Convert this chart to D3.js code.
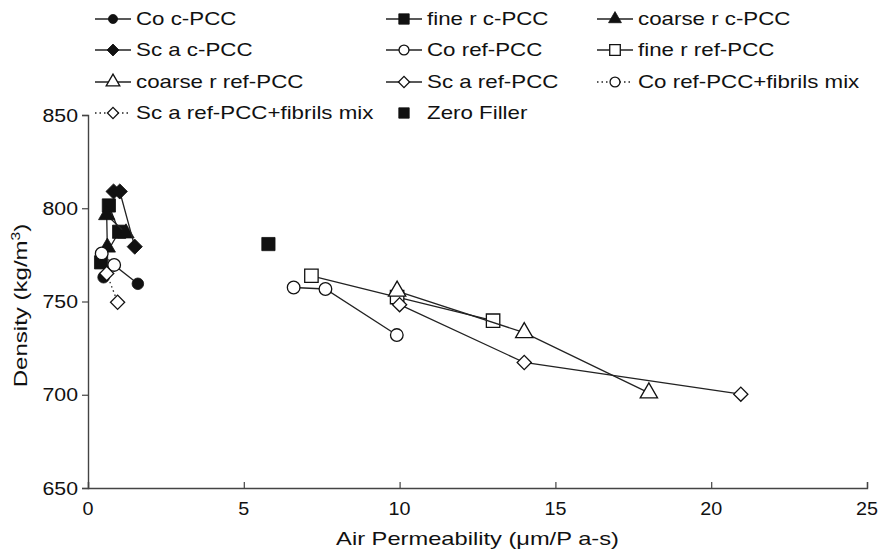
<!DOCTYPE html>
<html><head><meta charset="utf-8">
<script src="https://cdn.jsdelivr.net/npm/d3@7"></script>
<style>
html,body{margin:0;padding:0;background:#fff;}
svg{display:block;font-family:"Liberation Sans",Arial,sans-serif;}
</style></head>
<body><svg id="chart" width="878" height="552"></svg>
<script>
// ---- data ----
const seriesNames = ["Co c-PCC","fine r c-PCC","coarse r c-PCC","Sc a c-PCC","Co ref-PCC","fine r ref-PCC","coarse r ref-PCC","Sc a ref-PCC","Co ref-PCC+fibrils mix","Sc a ref-PCC+fibrils mix","Zero Filler"];
const coCX = [0.5, 0.84, 1.6],    coCY = [763, 769.5, 759.5];
const fineCX = [0.67, 1.0, 0.42], fineCY = [801.5, 787.4, 771];
const coarseCX = [1.22, 0.6, 0.62], coarseCY = [786.6, 796.4, 779];
const scaCX = [0.82, 1.02, 1.5],  scaCY = [809, 809, 779.4];
const coRX = [6.6, 7.62, 9.91],   coRY = [757.5, 756.7, 732];
const fineRX = [7.17, 9.92, 13.0], fineRY = [763.8, 752.4, 739.7];
const coarseRX = [9.92, 14.0, 18.0], coarseRY = [755.6, 733.3, 701];
const scaRX = [10.0, 14.0, 20.95], scaRY = [748.3, 717.3, 700.3];
const coMX = [0.44, 0.84], coMY = [775.8, 769.6];
const scaMX = [0.6, 0.95], scaMY = [765, 749.6];
const zeroX = [5.79], zeroY = [780.8];
const xTicks = [0, 5, 10, 15, 20, 25];
const yTicks = [650, 700, 750, 800, 850];

// ---- styles ----
const styles = [
  {x:coCX, y:coCY, shape:"circle", fill:"#111", line:"solid"},
  {x:fineCX, y:fineCY, shape:"square", fill:"#111", line:"solid"},
  {x:coarseCX, y:coarseCY, shape:"triangle", fill:"#111", line:"solid"},
  {x:scaCX, y:scaCY, shape:"diamond", fill:"#111", line:"solid"},
  {x:coRX, y:coRY, shape:"circle", fill:"#fff", line:"solid"},
  {x:fineRX, y:fineRY, shape:"square", fill:"#fff", line:"solid"},
  {x:coarseRX, y:coarseRY, shape:"triangle", fill:"#fff", line:"solid"},
  {x:scaRX, y:scaRY, shape:"diamond", fill:"#fff", line:"solid"},
  {x:coMX, y:coMY, shape:"circle", fill:"#fff", line:"dotted"},
  {x:scaMX, y:scaMY, shape:"diamond", fill:"#fff", line:"dotted"},
  {x:zeroX, y:zeroY, shape:"square", fill:"#111", line:"none"}
];

const svg = d3.select("#chart");
const margin = {left:88, right:11, top:115, bottom:64};
const W = 878, H = 552;
const x = d3.scaleLinear().domain([0,25]).range([margin.left, W - margin.right]);
const y = d3.scaleLinear().domain([650,850]).range([H - margin.bottom, margin.top]);

const TXT_SX = 1.24;   // horizontal stretch of the reference lettering
function stretchedText(g, tx, ty, str, anchor, size, sx) {
  return g.append("text")
    .attr("transform", `translate(${tx},${ty}) scale(${sx},1)`)
    .attr("text-anchor", anchor).attr("dy", "0.35em")
    .style("font-size", size + "px").attr("fill", "#111").text(str);
}

const axisColor = "#444";
// axes
const gx = svg.append("g").attr("transform", `translate(0,${y(650)})`)
  .call(d3.axisBottom(x).tickValues(xTicks).tickSize(-6).tickFormat(""));
const gy = svg.append("g").attr("transform", `translate(${x(0)},0)`)
  .call(d3.axisLeft(y).tickValues(yTicks).tickSize(6).tickFormat(""));
[gx, gy].forEach(g => {
  g.select(".domain").attr("stroke", axisColor).attr("stroke-width", 1.4);
  g.selectAll(".tick line").attr("stroke", axisColor).attr("stroke-width", 1.2);
});
const tickLab = svg.append("g");
xTicks.forEach(t => stretchedText(tickLab, x(t), y(650) + 20, d3.format("d")(t), "middle", 19, 1.04));
yTicks.forEach(t => stretchedText(tickLab, x(0) - 10, y(t), d3.format("d")(t), "end", 19, 1.12));

stretchedText(svg, (x(0)+x(25))/2, 539, "Air Permeability (μm/P a-s)", "middle", 18.5, 1.28);
const yl = svg.append("text").attr("transform", `translate(27,${(y(650)+y(850))/2 + 4}) rotate(-90) scale(1.3,1)`)
  .attr("text-anchor","middle").style("font-size","18.5px").attr("fill","#111");
yl.append("tspan").text("Density (kg/m");
yl.append("tspan").attr("dy","-7").style("font-size","12px").text("3");
yl.append("tspan").attr("dy","7").text(")");

function sym(shape, size) {
  if (shape === "circle") return d3.symbol(d3.symbolCircle, size)();
  if (shape === "square") return d3.symbol(d3.symbolSquare, size)();
  if (shape === "triangle") return d3.symbol(d3.symbolTriangle, size)();
  if (shape === "diamond") return d3.symbol(d3.symbolSquare, size)();
}
const plotSizes = {
  filled: {circle:105, square:175, triangle:115, diamond:115},
  open: {circle:125, square:180, triangle:130, diamond:100}
};
function markerSize(st, legend) {
  const s = plotSizes[st.fill === "#fff" ? "open" : "filled"][st.shape];
  return legend ? s * 0.62 : s;
}
function drawMarker(g, st, cx, cy, legend) {
  g.append("path").attr("d", sym(st.shape, markerSize(st, legend)))
   .attr("transform", `translate(${cx},${cy})` + (st.shape === "diamond" ? " rotate(45)" : ""))
   .attr("fill", st.fill).attr("stroke", "#111").attr("stroke-width", st.fill === "#fff" ? 1.3 : 0.8);
}

const plot = svg.append("g");
const lineGen = d3.line().x(d => x(d[0])).y(d => y(d[1]));
styles.forEach(st => {
  const pts = st.x.map((v,i) => [v, st.y[i]]);
  if (st.line !== "none" && pts.length > 1) {
    plot.append("path").attr("d", lineGen(pts)).attr("fill","none").attr("stroke","#222")
      .attr("stroke-width", 1.3).attr("stroke-dasharray", st.line === "dotted" ? "1.5,3" : null);
  }
  const g = plot.append("g");
  pts.forEach(p => drawMarker(g, st, x(p[0]), y(p[1]), false));
});

// legend
const colX = [95, 386, 597];
const rowY = [19, 50, 82, 113];
const leg = svg.append("g");
seriesNames.forEach((name, i) => {
  const st = styles[i];
  const c = i % 3, r = Math.floor(i / 3);
  let lx = colX[c], ly = rowY[r];
  const g = leg.append("g");
  if (st.line !== "none") {
    g.append("line").attr("x1", lx).attr("x2", lx + 36).attr("y1", ly).attr("y2", ly)
     .attr("stroke", "#222").attr("stroke-width", 1.3)
     .attr("stroke-dasharray", st.line === "dotted" ? "1.5,3" : null);
  }
  drawMarker(g, st, lx + 18, ly, true);
  stretchedText(g, lx + 41, ly, name, "start", 18, TXT_SX);
});
</script></body></html>
